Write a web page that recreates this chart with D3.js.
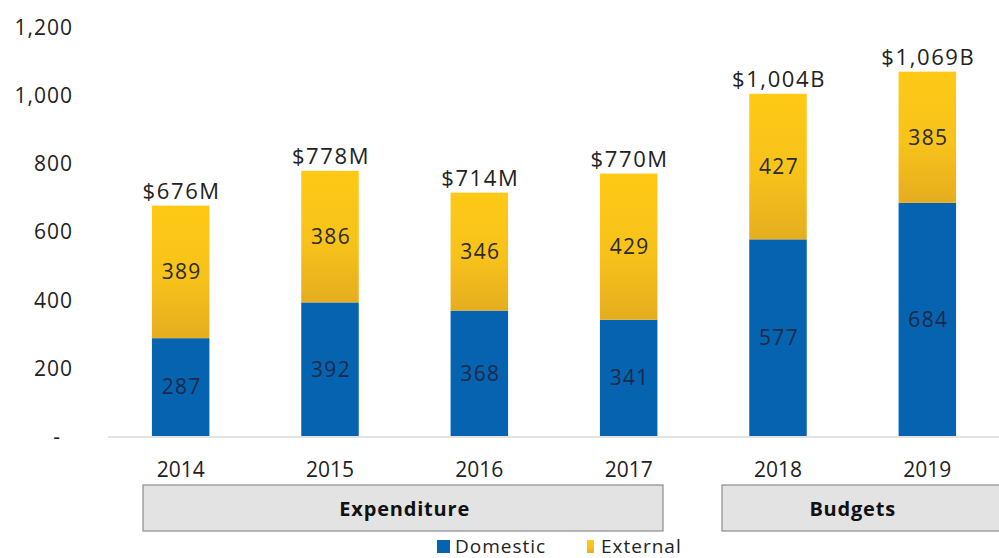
<!DOCTYPE html>
<html lang="en">
<head>
    <meta charset="UTF-8">
    <title>Domestic and External Funding</title>
    <script src="https://d3js.org/d3.v7.min.js"></script>
    <style>
        body {
            margin: 0;
            background-color: #ffffff;
            font-family: 'Open Sans', 'Noto Sans', sans-serif;
            overflow: hidden;
        }
        svg { display: block; }
    </style>
</head>
<body>
    <div id="chart"></div>

    <script>
        // Chart data
        const years = ["2014", "2015", "2016", "2017", "2018", "2019"];
        const domestic = [287, 392, 368, 341, 577, 684];
        const external = [389, 386, 346, 429, 427, 385];
        const totalLabels = ["$676M", "$778M", "$714M", "$770M", "$1,004B", "$1,069B"];
        const yTicks = [0, 200, 400, 600, 800, 1000, 1200];
        const groups = [
            { name: "Expenditure", from: "2014", to: "2017" },
            { name: "Budgets", from: "2018", to: "2019" }
        ];
        const seriesNames = ["Domestic", "External"];

        const width = 999, height = 558;

        const svg = d3.select("#chart")
            .append("svg")
            .attr("width", width)
            .attr("height", height);

        // Yellow gradient for the external segments
        const defs = svg.append("defs");
        const grad = defs.append("linearGradient")
            .attr("id", "extGrad")
            .attr("x1", 0).attr("y1", 0).attr("x2", 0).attr("y2", 1);
        grad.append("stop").attr("offset", "0%").attr("stop-color", "#ffc915");
        grad.append("stop").attr("offset", "55%").attr("stop-color", "#f7c21a");
        grad.append("stop").attr("offset", "100%").attr("stop-color", "#e5ad1f");

        const colors = { Domestic: "#0563b0", External: "url(#extGrad)" };

        // Scales
        const x = d3.scaleBand()
            .domain(years)
            .range([106, 1002])
            .paddingInner(0.615)
            .paddingOuter(0.3075);

        const y = d3.scaleLinear()
            .domain([0, 1200])
            .range([436, 27]);

        // Y axis (no line, no ticks)
        const yAxis = d3.axisLeft(y)
            .tickValues(yTicks)
            .tickSize(0)
            .tickPadding(0)
            .tickFormat(d => d === 0 ? "-" : d3.format(",")(d));

        const yG = svg.append("g")
            .attr("transform", "translate(73,0)")
            .call(yAxis);
        yG.select(".domain").remove();
        yG.selectAll("text")
            .attr("font-family", "'Open Sans', 'Noto Sans', sans-serif")
            .attr("font-size", 21)
            .attr("letter-spacing", 1)
            .attr("fill", "#222")
            .attr("dy", "0.35em")
            .attr("dx", d => d === 0 ? -12 : 0);

        // Baseline
        svg.append("line")
            .attr("x1", 108).attr("x2", width)
            .attr("y1", y(0) + 1).attr("y2", y(0) + 1)
            .attr("stroke", "#d9d9d9")
            .attr("stroke-width", 1.5);

        // Stack
        const rows = years.map((yr, i) => ({ year: yr, Domestic: domestic[i], External: external[i] }));
        const stacked = d3.stack().keys(seriesNames)(rows);

        const layers = svg.append("g")
            .selectAll("g")
            .data(stacked)
            .join("g")
            .attr("fill", d => colors[d.key]);

        layers.selectAll("rect")
            .data(d => d)
            .join("rect")
            .attr("x", d => x(d.data.year))
            .attr("width", x.bandwidth())
            .attr("y", d => y(d[1]))
            .attr("height", d => y(d[0]) - y(d[1]));

        // Segment value labels
        layers.selectAll("text")
            .data(d => d.map(v => ({ v, key: d.key })))
            .join("text")
            .attr("x", d => x(d.v.data.year) + x.bandwidth() / 2 + 1)
            .attr("y", d => y((d.v[0] + d.v[1]) / 2))
            .attr("dy", "0.35em")
            .attr("text-anchor", "middle")
            .attr("font-size", 21)
            .attr("letter-spacing", 1.3)
            .attr("fill", d => d.key === "Domestic" ? "#1c2a4a" : "#2a2a2a")
            .text(d => d.v.data[d.key]);

        // Total labels above bars
        svg.append("g")
            .selectAll("text")
            .data(rows)
            .join("text")
            .attr("x", d => x(d.year) + x.bandwidth() / 2 + 1)
            .attr("y", d => y(d.Domestic + d.External) - 7)
            .attr("text-anchor", "middle")
            .attr("font-size", 22)
            .attr("letter-spacing", 1.6)
            .attr("fill", "#222")
            .text((d, i) => totalLabels[i]);

        // Year labels
        svg.append("g")
            .selectAll("text")
            .data(years)
            .join("text")
            .attr("x", d => x(d) + x.bandwidth() / 2)
            .attr("y", 477)
            .attr("text-anchor", "middle")
            .attr("font-size", 21)
            .attr("fill", "#222")
            .text(d => d);

        // Group boxes below the axis
        const groupBounds = {
            Expenditure: [143, 663],
            Budgets: [722, 1001]
        };
        const gb = svg.append("g")
            .selectAll("g")
            .data(groups)
            .join("g");
        gb.append("rect")
            .attr("x", d => groupBounds[d.name][0])
            .attr("y", 485)
            .attr("width", d => groupBounds[d.name][1] - groupBounds[d.name][0])
            .attr("height", 46)
            .attr("fill", "#e3e3e3")
            .attr("stroke", "#8c8c8c")
            .attr("stroke-width", 1.2);
        gb.append("text")
            .attr("x", d => (x(d.from) + x(d.to) + x.bandwidth()) / 2)
            .attr("y", 516)
            .attr("text-anchor", "middle")
            .attr("font-size", 20)
            .attr("letter-spacing", 0.8)
            .attr("font-weight", "bold")
            .attr("fill", "#111")
            .text(d => d.name);

        // Legend
        const legend = svg.append("g").attr("transform", "translate(0,546)");
        const legendItems = [
            { name: seriesNames[0], x: 437, w: 13, tx: 455 },
            { name: seriesNames[1], x: 587, w: 7, tx: 601 }
        ];
        legend.selectAll("rect")
            .data(legendItems)
            .join("rect")
            .attr("x", d => d.x)
            .attr("y", -6)
            .attr("width", d => d.w)
            .attr("height", 13)
            .attr("fill", d => colors[d.name]);
        legend.selectAll("text")
            .data(legendItems)
            .join("text")
            .attr("x", d => d.tx)
            .attr("y", 0)
            .attr("dy", "0.36em")
            .attr("font-size", 19)
            .attr("letter-spacing", 1)
            .attr("fill", "#222")
            .text(d => d.name);
    </script>
</body>
</html>
